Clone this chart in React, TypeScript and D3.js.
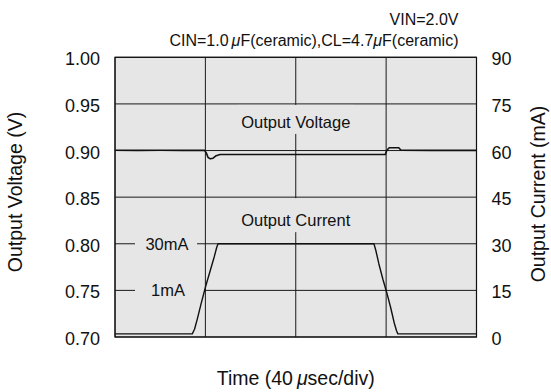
import React from "react";
import * as d3 from "d3";

// ---- data ----
const voltTime = [0, 10, 20, 30, 39.6, 40.4, 41.2, 42.2, 43.4, 44.8, 46.5, 60, 80, 100, 119.6, 120.4, 121.4, 125.6, 126.6, 140, 160];
const voltValue = [0.9003, 0.9002, 0.9003, 0.9002, 0.9003, 0.8975, 0.8925, 0.8911, 0.8918, 0.8945, 0.8957, 0.8957, 0.8958, 0.8957, 0.8957, 0.9005, 0.9030, 0.9030, 0.9003, 0.9002, 0.9002];

const currTime = [0, 34.2, 35.2, 36.5, 38.2, 40.2, 42.2, 44.0, 45.0, 45.6, 114.6, 115.4, 116.8, 118.6, 120.2, 122.0, 123.6, 124.6, 125.2, 160];
const currValue = [1, 1, 2.5, 6, 11, 16.5, 21.5, 26, 28.8, 30, 30, 28, 23.5, 18.5, 14.5, 9.5, 4.5, 2, 1, 1];

const voltTicks = [0.7, 0.75, 0.8, 0.85, 0.9, 0.95, 1.0];
const currTicks = [0, 15, 30, 45, 60, 75, 90];
const timeGrid = [0, 40, 80, 120, 160];

const FONT = "'Liberation Sans', Arial, Helvetica, sans-serif";
const PLOT_BG = "#e6e6e6";

export default function App() {
  const x = d3.scaleLinear().domain([0, 160]).range([115, 476.5]);
  const yV = d3.scaleLinear().domain([0.7, 1.0]).range([337, 57.3]);
  const yI = d3.scaleLinear().domain([0, 90]).range([337, 57.3]);

  const vLine = d3
    .line<number>()
    .x((_, i) => x(voltTime[i]))
    .y((d) => yV(d));
  const iLine = d3
    .line<number>()
    .x((_, i) => x(currTime[i]))
    .y((d) => yI(d));

  const [x0, x1] = x.range();
  const [yb, yt] = yV.range();
  const xc = x(80);

  return (
    <svg
      width={551}
      height={392}
      style={{ position: "absolute", left: 0, top: 0, background: "#fff" }}
      fontFamily={FONT}
    >
      <rect x={0} y={0} width={551} height={392} fill="#fff" />
      {/* plot background */}
      <rect x={x0} y={yt} width={x1 - x0} height={yb - yt} fill={PLOT_BG} />

      {/* horizontal grid */}
      {voltTicks.map((t) => (
        <line key={"h" + t} x1={x0} x2={x1} y1={yV(t)} y2={yV(t)} stroke="#1a1a1a" strokeWidth={1} />
      ))}
      {/* vertical grid */}
      {timeGrid.map((t) => (
        <line key={"v" + t} x1={x(t)} x2={x(t)} y1={yt} y2={yb} stroke="#1a1a1a" strokeWidth={1} />
      ))}

      {/* label gaps */}
      <rect x={xc - 58} y={yV(0.95) + 1} width={116} height={29} fill={PLOT_BG} />
      <rect x={xc - 58} y={yV(0.85) + 1} width={116} height={34} fill={PLOT_BG} />
      <rect x={135} y={yI(30) - 3} width={62} height={6} fill={PLOT_BG} />
      <rect x={135} y={yI(15) - 3} width={69} height={6} fill={PLOT_BG} />

      {/* traces */}
      <path d={vLine(voltValue) || ""} fill="none" stroke="#111" strokeWidth={1.6} strokeLinejoin="round" />
      <path d={iLine(currValue) || ""} fill="none" stroke="#111" strokeWidth={1.4} strokeLinejoin="round" />

      {/* border */}
      <rect x={x0} y={yt} width={x1 - x0} height={yb - yt} fill="none" stroke="#111" strokeWidth={1.2} />

      {/* inside labels */}
      <text x={xc} y={yV(0.95) + 24} textAnchor="middle" fontSize={16.5} fill="#111">
        Output Voltage
      </text>
      <text x={xc} y={yV(0.85) + 28.5} textAnchor="middle" fontSize={16.5} fill="#111">
        Output Current
      </text>
      <text x={167} y={yI(30) + 5.8} textAnchor="middle" fontSize={16.5} fill="#111">
        30mA
      </text>
      <text x={168} y={yI(15) + 5.8} textAnchor="middle" fontSize={16.5} fill="#111">
        1mA
      </text>

      {/* left ticks */}
      {voltTicks.map((t) => (
        <text key={"l" + t} x={100} y={yV(t) + 8} textAnchor="end" fontSize={18} fill="#111">
          {d3.format(".2f")(t)}
        </text>
      ))}
      {/* right ticks */}
      {currTicks.map((t) => (
        <text key={"r" + t} x={491.5} y={yI(t) + 8} textAnchor="start" fontSize={18} fill="#111">
          {t}
        </text>
      ))}

      {/* axis titles */}
      <text
        transform={`translate(15,192) rotate(-90)`}
        textAnchor="middle"
        dominantBaseline="central"
        fontSize={19.5}
        fill="#111"
      >
        Output Voltage (V)
      </text>
      <text
        transform={`translate(538,194) rotate(-90)`}
        textAnchor="middle"
        dominantBaseline="central"
        fontSize={19.5}
        fill="#111"
      >
        Output Current (mA)
      </text>
      <text x={xc} y={385} textAnchor="middle" fontSize={19.5} fill="#111">
        Time (40<tspan dx={4} fontStyle="italic">μ</tspan>sec/div)
      </text>

      {/* conditions */}
      <text x={458.5} y={24.5} textAnchor="end" fontSize={16} fill="#111">
        VIN=2.0V
      </text>
      <text x={458.5} y={45.5} textAnchor="end" fontSize={16} fill="#111">
        CIN=1.0<tspan dx={3} fontStyle="italic">μ</tspan>F(ceramic),CL=4.7<tspan fontStyle="italic">μ</tspan>F(ceramic)
      </text>
    </svg>
  );
}
